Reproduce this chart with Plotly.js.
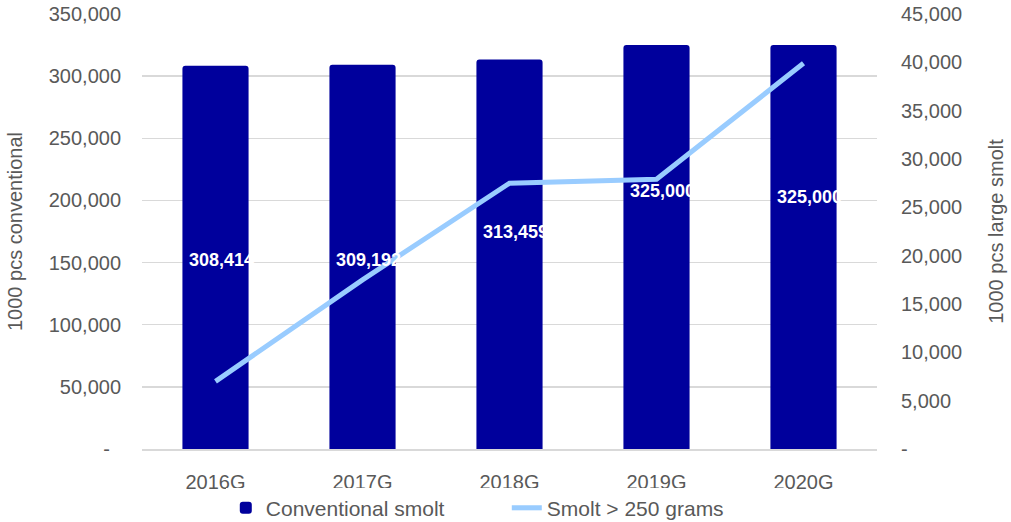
<!DOCTYPE html>
<html>
<head>
<meta charset="utf-8">
<script src="https://cdn.plot.ly/plotly-3.0.1.min.js"></script>
<style>html,body{margin:0;padding:0;background:#fff;}#chart{width:1011px;height:522px;}</style>
</head>
<body>
<div id="chart"></div>
<script>
const categories = ["2016G", "2017G", "2018G", "2019G", "2020G"];
const conventional = [308414, 309192, 313459, 325000, 325000];
const largeSmolt = [7000, 17500, 27500, 27900, 39900];
const barLabels = ["308,414", "309,192", "313,459", "325,000", "325,000"];
const labelLevels = [152000, 152000, 174500, 207500, 203000];
const leftTickVals = [0, 50000, 100000, 150000, 200000, 250000, 300000, 350000];
const leftTickText = ["-\u00a0\u00a0", "50,000", "100,000", "150,000", "200,000", "250,000", "300,000", "350,000"];
const rightTickVals = [0, 5000, 10000, 15000, 20000, 25000, 30000, 35000, 40000, 45000];
const rightTickText = ["-", "5,000", "10,000", "15,000", "20,000", "25,000", "30,000", "35,000", "40,000", "45,000"];

const FONT = "Liberation Sans, Arial, sans-serif";
const GREY = "#595959";

const traces = [
  {
    type: "bar", name: "Conventional smolt", x: categories, y: conventional,
    marker: {color: "#00009C"}, hoverinfo: "skip"
  },
  {
    type: "scatter", mode: "lines", name: "Smolt > 250 grams", x: categories, y: largeSmolt,
    yaxis: "y2", line: {color: "#99CCFF", width: 5}, hoverinfo: "skip"
  }
];

const annotations = categories.map((c, i) => ({
  x: c, y: labelLevels[i], xref: "x", yref: "y", text: barLabels[i],
  showarrow: false, xanchor: "left", yanchor: "middle", xshift: -29,
  font: {family: FONT, size: 18, color: "#ffffff", weight: "bold"}
}));

const layout = {
  width: 1011, height: 522,
  margin: {l: 142, r: 134, t: 14, b: 73, autoexpand: false},
  paper_bgcolor: "#ffffff", plot_bgcolor: "#ffffff",
  font: {family: FONT, size: 20, color: GREY},
  bargap: 0.55,
  barcornerradius: 3,
  showlegend: true,
  legend: {orientation: "h", x: 0.114, xanchor: "left", y: -0.136, yanchor: "middle",
           font: {family: FONT, size: 21, color: GREY}, entrywidth: 236, entrywidthmode: "pixels"},
  xaxis: {
    type: "category", showgrid: false, showline: true, linecolor: "#d9d9d9", linewidth: 1.5,
    ticks: "", ticklabelstandoff: 14, tickfont: {family: FONT, size: 20, color: GREY}, fixedrange: true
  },
  yaxis: {
    range: [0, 350000], tickvals: leftTickVals, ticktext: leftTickText,
    showgrid: true, gridcolor: "#d9d9d9", gridwidth: 1.5, zeroline: false, showline: false,
    ticks: "", ticklabelstandoff: 20, tickfont: {family: FONT, size: 20, color: GREY},
    title: {text: "1000 pcs conventional", font: {family: FONT, size: 20, color: GREY}, standoff: 20},
    automargin: false
  },
  yaxis2: {
    range: [0, 45000], overlaying: "y", side: "right", tickvals: rightTickVals, ticktext: rightTickText,
    showgrid: false, zeroline: false, showline: false,
    ticks: "", ticklabelstandoff: 23, tickfont: {family: FONT, size: 20, color: GREY},
    title: {text: "1000 pcs large smolt", font: {family: FONT, size: 20, color: GREY}, standoff: 27},
    automargin: false
  },
  annotations: annotations
};

Plotly.newPlot("chart", traces, layout, {displayModeBar: false, staticPlot: true});
</script>
</body>
</html>
